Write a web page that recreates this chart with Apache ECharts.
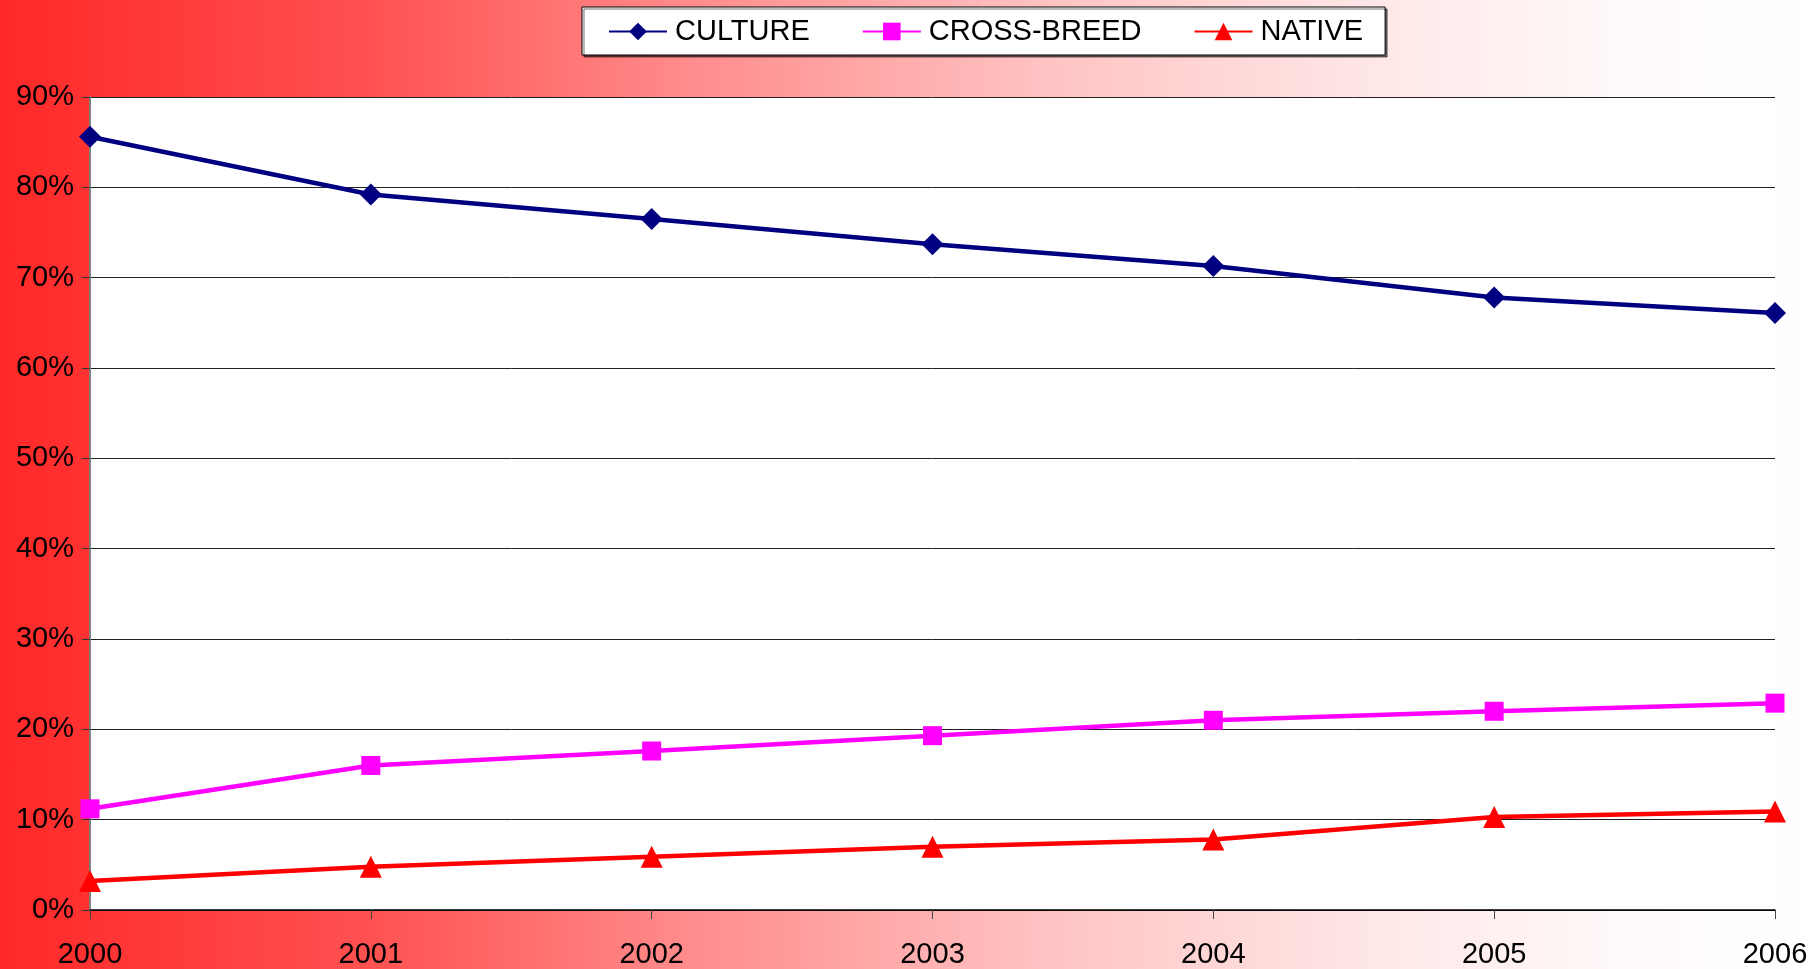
<!DOCTYPE html>
<html>
<head>
<meta charset="utf-8">
<script src="https://cdn.jsdelivr.net/npm/echarts@6/dist/echarts.min.js"></script>
<style>
  html, body { margin: 0; padding: 0; overflow: hidden; }
  #main {
    width: 1818px; height: 969px;
    background: linear-gradient(to right, #ff2828 0%, #ff5050 20%, #ff8c8c 38%, #ffc4c4 58%, #ffe6e6 75%, #fffafa 90%, #ffffff 100%);
  }
</style>
</head>
<body>
<div id="main"></div>
<script>
// years on the x axis
var years = ['2000', '2001', '2002', '2003', '2004', '2005', '2006'];
// shares (fractions)
var culture = [0.856, 0.792, 0.765, 0.737, 0.713, 0.678, 0.661];
var crossBreed = [0.112, 0.160, 0.176, 0.193, 0.210, 0.220, 0.229];
var native = [0.032, 0.048, 0.059, 0.070, 0.078, 0.103, 0.109];

var myChart = echarts.init(document.getElementById('main'));

var font = 'Liberation Sans, Arial, sans-serif';

myChart.setOption({
    animation: false,
    textStyle: { fontFamily: font },
    legend: {
        left: 582,
        top: 7,
        padding: [10, 22, 9, 26],
        itemGap: 52,
        itemWidth: 58,
        itemHeight: 22,
        backgroundColor: '#fff',
        borderColor: '#000',
        borderWidth: 1,
        shadowColor: 'rgba(0,0,0,0.55)',
        shadowOffsetX: 2,
        shadowOffsetY: 2,
        textStyle: { color: '#000', fontSize: 29, fontFamily: font, padding: [0, 0, 0, 3] },
        data: ['CULTURE', 'CROSS-BREED', 'NATIVE']
    },
    grid: {
        left: 90,
        right: 43,
        top: 97,
        bottom: 49,
        show: true,
        backgroundColor: '#fff',
        borderWidth: 0
    },
    xAxis: {
        type: 'category',
        boundaryGap: false,
        data: years,
        axisLine: { lineStyle: { color: '#000', width: 1.5 } },
        axisTick: { show: true, length: 9, lineStyle: { color: '#444' } },
        axisLabel: { color: '#000', fontSize: 29, margin: 30 }
    },
    yAxis: {
        type: 'value',
        min: 0,
        max: 0.9,
        interval: 0.1,
        axisLine: { show: true, lineStyle: { color: '#808080', width: 2 } },
        axisTick: { show: true, length: 8, lineStyle: { color: '#333' } },
        axisLabel: {
            color: '#000',
            fontSize: 29,
            margin: 16,
            formatter: function (v) { return Math.round(v * 100) + '%'; }
        },
        splitLine: { lineStyle: { color: '#222', width: 1 } }
    },
    series: [
        {
            name: 'CULTURE',
            type: 'line',
            data: culture,
            symbol: 'diamond',
            symbolSize: 22,
            lineStyle: { color: '#000080', width: 4.5 },
            itemStyle: { color: '#000080' }
        },
        {
            name: 'CROSS-BREED',
            type: 'line',
            data: crossBreed,
            symbol: 'rect',
            symbolSize: 19,
            lineStyle: { color: '#ff00ff', width: 4.5 },
            itemStyle: { color: '#ff00ff' }
        },
        {
            name: 'NATIVE',
            type: 'line',
            data: native,
            symbol: 'triangle',
            symbolSize: 22,
            lineStyle: { color: '#ff0000', width: 4.5 },
            itemStyle: { color: '#ff0000' }
        }
    ]
});
</script>
</body>
</html>
